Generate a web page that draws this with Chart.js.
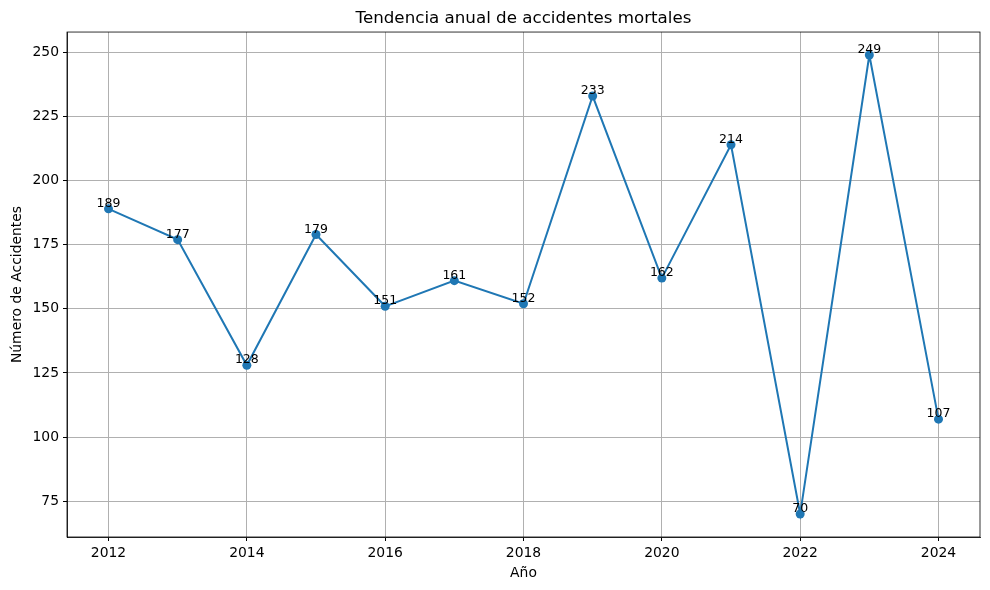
<!DOCTYPE html>
<html>
<head>
<meta charset="utf-8">
<script src="https://cdn.jsdelivr.net/npm/chart.js@4/dist/chart.umd.min.js"></script>
<style>
html,body{margin:0;padding:0;background:#fff;}
canvas{display:block;}
</style>
</head>
<body>
<canvas id="c" width="990" height="590"></canvas>
<script>
const years = [2012, 2013, 2014, 2015, 2016, 2017, 2018, 2019, 2020, 2021, 2022, 2023, 2024];
const accidents = [189, 177, 128, 179, 151, 161, 152, 233, 162, 214, 70, 249, 107];
const xTicks = [2012, 2014, 2016, 2018, 2020, 2022, 2024];
const yTicks = [75, 100, 125, 150, 175, 200, 225, 250];
const titleText = 'Tendencia anual de accidentes mortales';
const xLabel = 'Año';
const yLabel = 'Número de Accidentes';

const FONT = "'DejaVu Sans', sans-serif";
Chart.defaults.font.family = FONT;
Chart.defaults.color = '#000';

const boxPlugin = {
  id: 'box',
  afterDraw(chart) {
    const a = chart.chartArea, ctx = chart.ctx;
    ctx.save();
    ctx.strokeStyle = '#000';
    ctx.lineWidth = 0.8;
    ctx.strokeRect(a.left, a.top, a.right - a.left, a.bottom - a.top);
    ctx.restore();
  }
};
const labelPlugin = {
  id: 'valueLabels',
  afterDatasetsDraw(chart) {
    const ctx = chart.ctx;
    const meta = chart.getDatasetMeta(0);
    ctx.save();
    ctx.font = '12.5px ' + FONT;
    ctx.fillStyle = '#000';
    ctx.textAlign = 'center';
    ctx.textBaseline = 'bottom';
    meta.data.forEach((pt, i) => {
      ctx.fillText(String(accidents[i]), pt.x, pt.y + 1);
    });
    ctx.restore();
  }
};

const pad = 0.05;
const xr = years[years.length - 1] - years[0];
const yMin = Math.min(...accidents), yMax = Math.max(...accidents);
const yr = yMax - yMin;

new Chart(document.getElementById('c'), {
  type: 'line',
  data: {
    datasets: [{
      data: years.map((y, i) => ({x: y, y: accidents[i]})),
      borderColor: '#1f77b4',
      backgroundColor: '#1f77b4',
      borderWidth: 2,
      pointRadius: 4.5,
      pointBorderWidth: 0,
      pointBackgroundColor: '#1f77b4',
      tension: 0,
      clip: false
    }]
  },
  options: {
    responsive: false,
    animation: false,
    devicePixelRatio: 1,
    layout: {padding: {left: 0, right: 10, top: 0, bottom: 0}},
    plugins: {
      legend: {display: false},
      tooltip: {enabled: false},
      title: {
        display: true,
        text: titleText,
        fullSize: false,
        color: '#000',
        font: {size: 16.7, weight: 'normal'},
        padding: {top: 9, bottom: 3}
      }
    },
    scales: {
      x: {
        type: 'linear',
        min: years[0] - pad * xr,
        max: years[years.length - 1] + pad * xr,
        afterBuildTicks: s => { s.ticks = xTicks.map(v => ({value: v})); },
        afterFit: s => { s.height = 53; },
        ticks: {callback: v => String(v), font: {size: 13.9}, color: '#000', padding: 4, maxRotation: 0},
        grid: {color: '#b0b0b0', lineWidth: 1, tickColor: '#000', tickLength: 4, drawTicks: true},
        border: {display: true, color: '#000', width: 0.8},
        title: {display: true, text: xLabel, font: {size: 13.9}, color: '#000', padding: {top: 3, bottom: 8}}
      },
      y: {
        type: 'linear',
        min: yMin - pad * yr,
        max: yMax + pad * yr,
        afterBuildTicks: s => { s.ticks = yTicks.map(v => ({value: v})); },
        afterFit: s => { s.width = 67; },
        ticks: {callback: v => String(v), font: {size: 13.9}, color: '#000', padding: 4},
        grid: {color: '#b0b0b0', lineWidth: 1, tickColor: '#000', tickLength: 4, drawTicks: true},
        border: {display: true, color: '#000', width: 0.8},
        title: {display: true, text: yLabel, font: {size: 13.9}, color: '#000', padding: {top: 9, bottom: 0}}
      }
    }
  },
  plugins: [boxPlugin, labelPlugin]
});
</script>
</body>
</html>
